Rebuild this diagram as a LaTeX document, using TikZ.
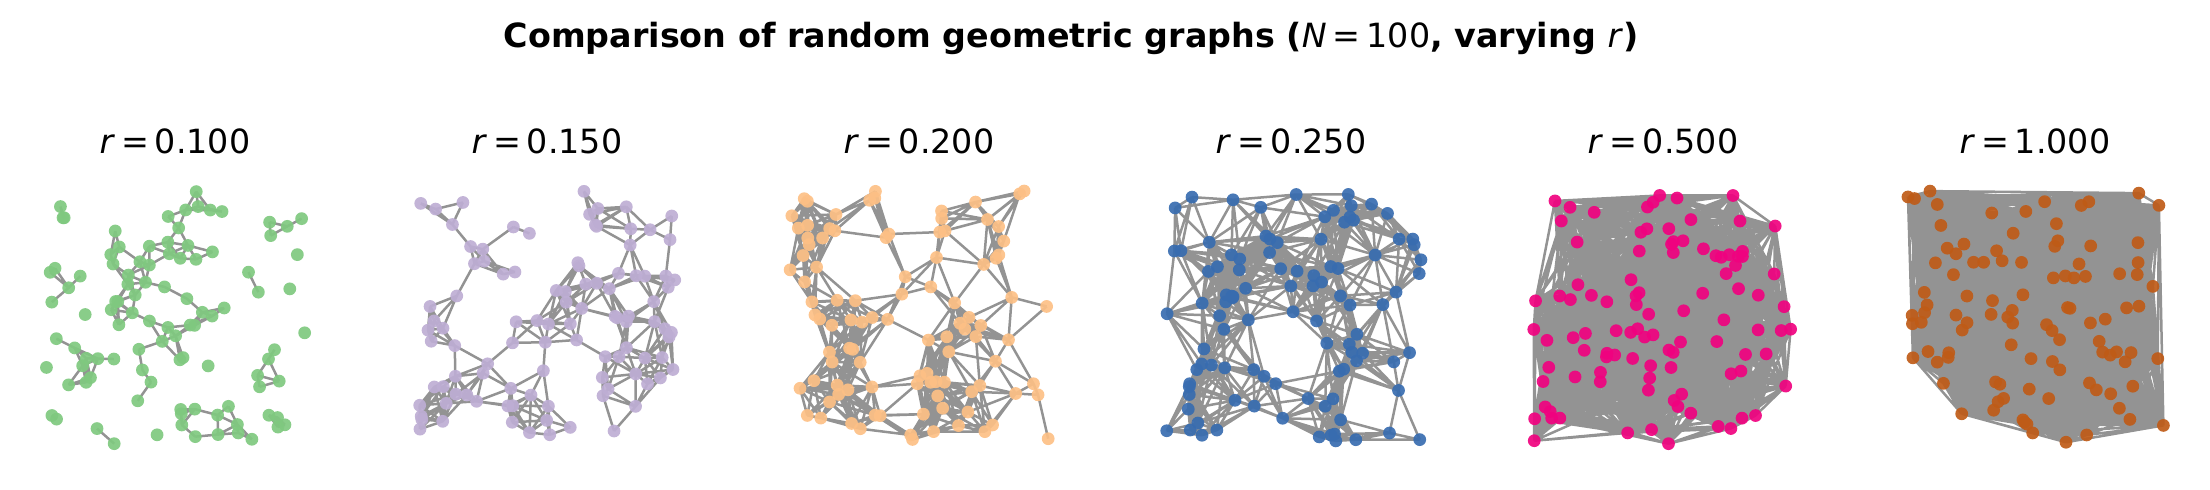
\documentclass[tikz,border=0pt]{standalone}
\usepackage{fontspec}
\setmainfont{DejaVu Sans}

\definecolor{accgreen}{HTML}{7FC97F}
\definecolor{accpurple}{HTML}{BEAED4}
\definecolor{accorange}{HTML}{FDC086}
\definecolor{accblue}{HTML}{386CB0}
\definecolor{accpink}{HTML}{F0027F}
\definecolor{accbrown}{HTML}{BF5B17}

\tikzset{
  edge/.style={draw=gray, opacity=0.85, line width=0.9pt},
  dot/.style={circle, fill=#1, opacity=0.92, inner sep=0pt, minimum size=4.6pt},
  paneltitle/.style={font=\fontsize{12}{14}\selectfont},
  figtitle/.style={font=\bfseries\fontsize{12}{14}\selectfont},
}

% one panel: name, centre x, label, r^2 (x 10^8), colour, seed
\newcommand{\rggpanel}[6]{%
  \pgfmathsetseed{#6}
  \foreach \i in {1,...,100} {
    \pgfmathrandominteger{\rx}{0}{10000}
    \pgfmathrandominteger{\ry}{0}{10000}
    \expandafter\xdef\csname #1x\i\endcsname{\rx}
    \expandafter\xdef\csname #1y\i\endcsname{\ry}
    \coordinate (#1-\i) at ({#2-130+\rx/10000*260}, {445-\ry/10000*254});
  }
  % edges between points closer than r, gathered into one path
  \gdef\edgelist{}
  \foreach \i in {1,...,99} {
    \pgfmathtruncatemacro\k{\i+1}
    \foreach \j in {\k,...,100} {
      \edef\dx{\the\numexpr\csname #1x\i\endcsname-\csname #1x\j\endcsname\relax}
      \edef\dy{\the\numexpr\csname #1y\i\endcsname-\csname #1y\j\endcsname\relax}
      \ifnum\numexpr\dx*\dx+\dy*\dy\relax<\numexpr#4+1\relax
        \xdef\edgelist{\edgelist(#1-\i)--(#1-\j)}
      \fi
    }
  }
  \draw[edge] \edgelist;
  \foreach \i in {1,...,100}
    \node[dot=#5] (#1-n\i) at (#1-\i) {};
  \node[paneltitle] (#1-title) at (#2,141) {\textit{r}\kern0.18em=\kern0.18em#3};
}

\begin{document}
\begin{tikzpicture}[x=0.36pt, y=-0.36pt]
  \useasboundingbox (0,0) rectangle (2210,490);

  \node[figtitle] (title) at (1071,38)
    {Comparison of random geometric graphs (\textmd{\textit{N}\kern0.18em=\kern0.18em100}, varying \textmd{\textit{r}})};

  \rggpanel{ga}{175}{0.100}{1000000}{accgreen}{11}
  \rggpanel{gb}{547}{0.150}{2250000}{accpurple}{23}
  \rggpanel{gc}{919}{0.200}{4000000}{accorange}{37}
  \rggpanel{gd}{1291}{0.250}{6250000}{accblue}{41}
  \rggpanel{ge}{1663}{0.500}{25000000}{accpink}{53}
  \rggpanel{gf}{2035}{1.000}{100000000}{accbrown}{67}
\end{tikzpicture}
\end{document}
